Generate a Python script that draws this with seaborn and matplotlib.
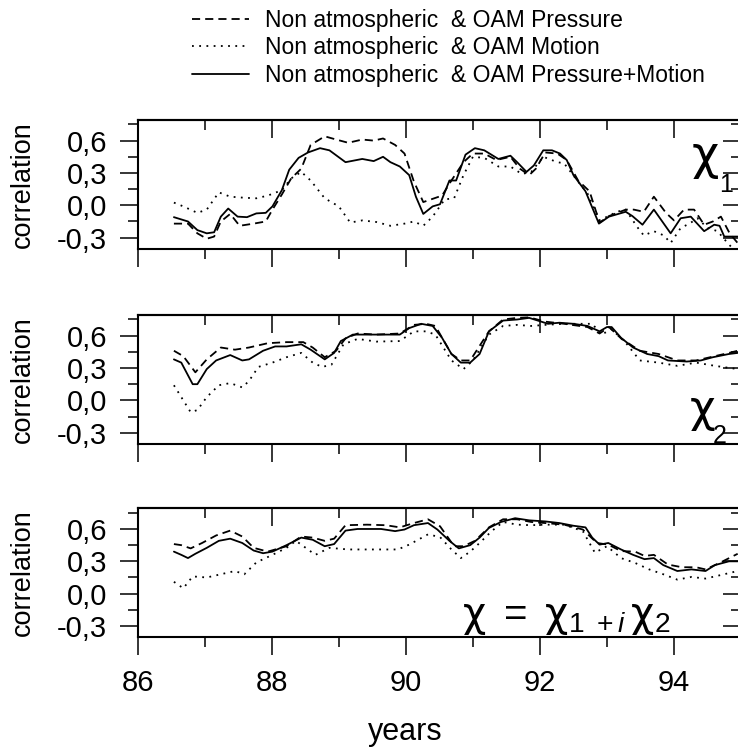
import pandas as pd
import matplotlib
matplotlib.use('Agg')
import matplotlib.pyplot as plt
import seaborn as sns
from matplotlib.lines import Line2D
from matplotlib.ticker import FixedLocator

# values (years, correlation)
chi1_press_years = [86.54, 86.75, 86.89, 87.03, 87.14, 87.24, 87.38, 87.52, 87.73, 87.91, 88.01, 88.15,
                    88.29, 88.44, 88.58, 88.79, 88.96, 89.14, 89.35, 89.52, 89.66, 89.84, 89.98, 90.12,
                    90.26, 90.40, 90.54, 90.68, 90.86, 91.00, 91.17, 91.35, 91.56, 91.70, 91.84, 91.94,
                    92.08, 92.26, 92.40, 92.57, 92.74, 92.89, 93.03, 93.28, 93.40, 93.55, 93.70, 93.88,
                    94.00, 94.15, 94.30, 94.45, 94.58, 94.70, 94.83, 94.95]
chi1_press = [-0.17, -0.17, -0.26, -0.31, -0.29, -0.15, -0.08, -0.19, -0.17, -0.15, -0.04, 0.10,
              0.25, 0.34, 0.56, 0.64, 0.61, 0.58, 0.61, 0.60, 0.62, 0.56, 0.48, 0.22,
              0.03, 0.06, 0.09, 0.23, 0.40, 0.48, 0.48, 0.42, 0.45, 0.34, 0.28, 0.34,
              0.49, 0.48, 0.42, 0.23, 0.13, -0.16, -0.10, -0.04, -0.04, -0.06, 0.08, -0.07,
              -0.14, -0.04, -0.04, -0.18, -0.15, -0.105, -0.26, -0.35]
chi1_motion_years = [86.54, 86.68, 86.89, 87.03, 87.21, 87.38, 87.59, 87.77, 87.94, 88.15, 88.29, 88.44,
                     88.58, 88.79, 89.00, 89.17, 89.35, 89.56, 89.77, 89.98, 90.12, 90.26, 90.40, 90.58,
                     90.72, 90.86, 91.00, 91.17, 91.38, 91.56, 91.73, 91.87, 92.05, 92.26, 92.36, 92.57,
                     92.71, 92.89, 93.15, 93.28, 93.45, 93.55, 93.70, 93.85, 93.95, 94.10, 94.23, 94.35,
                     94.50, 94.65, 94.80, 94.95]
chi1_motion = [0.025, -0.01, -0.07, -0.04, 0.12, 0.08, 0.07, 0.065, 0.09, 0.14, 0.25, 0.31,
               0.23, 0.065, -0.01, -0.16, -0.14, -0.155, -0.19, -0.17, -0.15, -0.19, -0.105, 0.055,
               0.065, 0.28, 0.45, 0.44, 0.36, 0.36, 0.29, 0.31, 0.45, 0.40, 0.39, 0.22,
               0.11, -0.14, -0.06, -0.04, -0.20, -0.28, -0.24, -0.28, -0.35, -0.21, -0.17, -0.12,
               -0.21, -0.24, -0.35, -0.45]
chi1_both_years = [86.54, 86.75, 86.89, 87.03, 87.14, 87.24, 87.35, 87.49, 87.63, 87.77, 87.91, 88.01,
                   88.15, 88.26, 88.40, 88.54, 88.72, 88.86, 89.10, 89.35, 89.52, 89.66, 89.77, 89.91,
                   90.05, 90.15, 90.26, 90.40, 90.51, 90.65, 90.75, 90.89, 91.03, 91.17, 91.38, 91.56,
                   91.66, 91.80, 91.91, 92.05, 92.18, 92.30, 92.40, 92.50, 92.68, 92.88, 93.03, 93.28,
                   93.38, 93.53, 93.70, 93.95, 94.10, 94.25, 94.45, 94.60, 94.68, 94.75, 94.95]
chi1_both = [-0.11, -0.15, -0.23, -0.26, -0.25, -0.105, -0.03, -0.105, -0.11, -0.075, -0.07, -0.01,
             0.14, 0.33, 0.44, 0.49, 0.53, 0.51, 0.40, 0.43, 0.41, 0.45, 0.40, 0.36,
             0.28, 0.08, -0.08, -0.01, 0.01, 0.23, 0.23, 0.47, 0.53, 0.51, 0.43, 0.46,
             0.40, 0.31, 0.37, 0.51, 0.51, 0.48, 0.42, 0.28, 0.13, -0.17, -0.105, -0.06,
             -0.10, -0.18, -0.04, -0.26, -0.12, -0.105, -0.24, -0.18, -0.19, -0.29, -0.29]

chi2_press_years = [86.54, 86.68, 86.86, 87.03, 87.24, 87.45, 87.66, 87.94, 88.22, 88.47, 88.61, 88.79,
                    88.96, 89.10, 89.28, 89.56, 89.91, 90.12, 90.30, 90.44, 90.68, 90.82, 90.96, 91.24,
                    91.45, 91.66, 91.84, 92.08, 92.36, 92.71, 92.89, 93.03, 93.21, 93.49, 93.77, 94.05,
                    94.33, 94.61, 94.82, 94.95]
chi2_press = [0.46, 0.41, 0.26, 0.38, 0.49, 0.47, 0.49, 0.53, 0.54, 0.54, 0.49, 0.40,
              0.46, 0.575, 0.62, 0.61, 0.62, 0.70, 0.71, 0.69, 0.43, 0.37, 0.37, 0.64,
              0.75, 0.765, 0.77, 0.73, 0.71, 0.68, 0.62, 0.68, 0.575, 0.46, 0.43, 0.37,
              0.37, 0.41, 0.44, 0.46]
chi2_motion_years = [86.54, 86.65, 86.79, 86.89, 87.03, 87.21, 87.38, 87.56, 87.66, 87.80, 88.01, 88.22,
                     88.44, 88.61, 88.75, 88.89, 89.07, 89.28, 89.56, 89.91, 90.12, 90.30, 90.44, 90.68,
                     90.86, 91.00, 91.24, 91.45, 91.66, 91.87, 92.08, 92.36, 92.78, 92.92, 93.07, 93.28,
                     93.49, 93.77, 94.05, 94.33, 94.61, 94.95]
chi2_motion = [0.14, 0.03, -0.11, -0.09, 0.03, 0.14, 0.16, 0.12, 0.18, 0.31, 0.35, 0.40,
               0.44, 0.35, 0.31, 0.33, 0.52, 0.57, 0.545, 0.55, 0.64, 0.64, 0.61, 0.37,
               0.29, 0.37, 0.61, 0.69, 0.70, 0.69, 0.70, 0.71, 0.71, 0.61, 0.66, 0.535,
               0.37, 0.35, 0.32, 0.35, 0.32, 0.29]
chi2_both_years = [86.54, 86.65, 86.82, 86.89, 87.03, 87.17, 87.38, 87.56, 87.66, 87.87, 88.05, 88.22,
                   88.44, 88.58, 88.79, 88.93, 89.03, 89.21, 89.42, 89.63, 89.91, 90.05, 90.23, 90.40,
                   90.54, 90.68, 90.82, 90.96, 91.10, 91.24, 91.45, 91.66, 91.84, 92.02, 92.12, 92.29,
                   92.50, 92.71, 92.89, 93.00, 93.07, 93.21, 93.39, 93.60, 93.77, 93.91, 94.19, 94.40,
                   94.58, 94.82, 94.95]
chi2_both = [0.38, 0.35, 0.15, 0.15, 0.29, 0.37, 0.42, 0.37, 0.38, 0.46, 0.50, 0.50,
             0.52, 0.47, 0.38, 0.44, 0.55, 0.61, 0.61, 0.61, 0.61, 0.67, 0.71, 0.69,
             0.58, 0.43, 0.35, 0.35, 0.43, 0.64, 0.74, 0.75, 0.765, 0.73, 0.71, 0.72,
             0.71, 0.69, 0.64, 0.68, 0.68, 0.58, 0.49, 0.43, 0.41, 0.37, 0.36, 0.37,
             0.40, 0.43, 0.44]

chi_press_years = [86.54, 86.65, 86.79, 86.96, 87.17, 87.38, 87.56, 87.73, 87.94, 88.22, 88.44, 88.61,
                   88.79, 88.93, 89.10, 89.42, 89.70, 89.91, 90.12, 90.33, 90.51, 90.72, 90.86, 91.03,
                   91.24, 91.45, 91.66, 91.87, 92.08, 92.36, 92.64, 92.85, 93.02, 93.21, 93.42, 93.56,
                   93.70, 93.91, 94.12, 94.33, 94.47, 94.68, 94.95]
chi_press = [0.46, 0.45, 0.42, 0.47, 0.54, 0.585, 0.53, 0.425, 0.39, 0.44, 0.53, 0.52,
             0.49, 0.51, 0.635, 0.64, 0.635, 0.615, 0.655, 0.69, 0.625, 0.44, 0.44, 0.49,
             0.615, 0.69, 0.69, 0.665, 0.655, 0.64, 0.595, 0.47, 0.455, 0.395, 0.39, 0.35,
             0.36, 0.27, 0.245, 0.245, 0.225, 0.285, 0.37]
chi_motion_years = [86.54, 86.68, 86.82, 87.03, 87.24, 87.45, 87.59, 87.77, 88.01, 88.22, 88.36, 88.54,
                    88.65, 88.86, 89.14, 89.56, 89.88, 90.05, 90.33, 90.51, 90.68, 90.82, 90.96, 91.10,
                    91.28, 91.45, 91.66, 91.87, 92.08, 92.36, 92.64, 92.82, 93.00, 93.21, 93.42, 93.63,
                    93.84, 94.05, 94.26, 94.47, 94.68, 94.95]
chi_motion = [0.11, 0.05, 0.16, 0.15, 0.18, 0.21, 0.18, 0.29, 0.36, 0.425, 0.49, 0.41,
              0.36, 0.425, 0.41, 0.41, 0.41, 0.455, 0.55, 0.525, 0.41, 0.33, 0.39, 0.47,
              0.58, 0.665, 0.64, 0.635, 0.64, 0.64, 0.58, 0.38, 0.44, 0.33, 0.285, 0.225,
              0.18, 0.13, 0.155, 0.14, 0.17, 0.21]
chi_both_years = [86.54, 86.65, 86.75, 86.86, 87.03, 87.21, 87.38, 87.56, 87.73, 87.87, 88.01, 88.22,
                  88.44, 88.61, 88.79, 88.93, 89.10, 89.28, 89.63, 89.84, 89.98, 90.12, 90.33, 90.47,
                  90.65, 90.79, 90.96, 91.10, 91.24, 91.42, 91.63, 91.84, 92.08, 92.29, 92.50, 92.68,
                  92.78, 92.89, 93.02, 93.21, 93.39, 93.56, 93.70, 93.84, 94.05, 94.26, 94.47, 94.61,
                  94.82, 94.95]
chi_both = [0.39, 0.36, 0.33, 0.37, 0.425, 0.49, 0.51, 0.47, 0.40, 0.375, 0.39, 0.45,
            0.52, 0.50, 0.44, 0.46, 0.585, 0.60, 0.60, 0.58, 0.595, 0.635, 0.655, 0.595,
            0.49, 0.42, 0.45, 0.52, 0.61, 0.665, 0.70, 0.68, 0.67, 0.655, 0.63, 0.615,
            0.52, 0.455, 0.47, 0.41, 0.36, 0.32, 0.33, 0.265, 0.21, 0.225, 0.21, 0.265,
            0.30, 0.30]

series_labels = ['Non atmospheric  & OAM Pressure',
                 'Non atmospheric  & OAM Motion',
                 'Non atmospheric  & OAM Pressure+Motion']
year_ticks = [86, 88, 90, 92, 94]
year_labels = ['86', '88', '90', '92', '94']
corr_ticks = [-0.3, 0.0, 0.3, 0.6]
corr_labels = ['-0,3', '0,0', '0,3', '0,6']

panels = {
    'chi1': [(chi1_press_years, chi1_press), (chi1_motion_years, chi1_motion), (chi1_both_years, chi1_both)],
    'chi2': [(chi2_press_years, chi2_press), (chi2_motion_years, chi2_motion), (chi2_both_years, chi2_both)],
    'chi': [(chi_press_years, chi_press), (chi_motion_years, chi_motion), (chi_both_years, chi_both)],
}
rows = []
for pname, series in panels.items():
    for label, (yrs, vals) in zip(series_labels, series):
        for yr, v in zip(yrs, vals):
            rows.append({'panel': pname, 'series': label, 'year': yr, 'corr': v})
df = pd.DataFrame(rows)

sns.set_style('ticks')
plt.rcParams['font.family'] = ['Liberation Sans', 'DejaVu Sans']
for key in ['text.color', 'axes.labelcolor', 'xtick.color', 'ytick.color', 'axes.edgecolor']:
    plt.rcParams[key] = 'black'
plt.rcParams['mathtext.fontset'] = 'custom'
plt.rcParams['mathtext.rm'] = 'Liberation Sans'
plt.rcParams['mathtext.it'] = 'Liberation Sans:italic'
plt.rcParams['mathtext.sf'] = 'DejaVu Sans'
plt.rcParams['mathtext.default'] = 'regular'

dash_map = {series_labels[0]: (4.5, 2.8), series_labels[1]: (1.0, 3.0), series_labels[2]: ''}
lw = 1.3

fig = plt.figure(figsize=(7.38, 7.49), dpi=100)
left, width, height = 0.1866, 0.8175, 0.172
bottoms = [0.6676, 0.4072, 0.1491]

axes = []
for i, (pname, bottom) in enumerate(zip(['chi1', 'chi2', 'chi'], bottoms)):
    ax = fig.add_axes([left, bottom, width, height])
    sns.lineplot(data=df[df['panel'] == pname], x='year', y='corr', style='series',
                 style_order=series_labels, dashes=dash_map, color='black', linewidth=lw,
                 estimator=None, sort=False, legend=False, ax=ax)
    ax.set_xlim(86, 95)
    ax.set_ylim(-0.405, 0.79)
    ax.set_xticks(year_ticks)
    ax.xaxis.set_minor_locator(FixedLocator([87, 89, 91, 93, 95]))
    ax.set_yticks(corr_ticks)
    ax.set_yticklabels(corr_labels)
    ax.yaxis.set_minor_locator(FixedLocator([-0.15, 0.15, 0.45, 0.75]))
    if i == 2:
        ax.set_xticklabels(year_labels)
        ax.set_xlabel('years', fontsize=22)
        ax.xaxis.set_label_coords(0.443, -0.62)
    else:
        ax.set_xticklabels([])
        ax.set_xlabel('')
    ax.set_ylabel('correlation', fontsize=19.5)
    ax.yaxis.set_label_coords(-0.168, 0.5)
    ax.tick_params(which='major', direction='out', length=13, width=1.1, labelsize=21, pad=9)
    ax.tick_params(which='minor', direction='out', length=7, width=1.1)
    ax.tick_params(axis='x', which='major', pad=10)
    for sp in ax.spines.values():
        sp.set_linewidth(1.5)
    # inward ticks on top and right side
    top = ax.secondary_xaxis('top')
    top.set_xticks(year_ticks)
    top.xaxis.set_minor_locator(FixedLocator([87, 89, 91, 93, 95]))
    top.tick_params(which='major', direction='in', length=13, width=1.1, labeltop=False)
    top.tick_params(which='minor', direction='in', length=7, width=1.1)
    top.spines['top'].set_linewidth(1.5)
    right = ax.secondary_yaxis('right')
    right.set_yticks(corr_ticks)
    right.yaxis.set_minor_locator(FixedLocator([-0.15, 0.15, 0.45, 0.75]))
    right.tick_params(which='major', direction='in', length=13, width=1.1, labelright=False)
    right.tick_params(which='minor', direction='in', length=7, width=1.1)
    axes.append(ax)

ax1, ax2, ax3 = axes
chi_font = ['DejaVu Sans']
ax1.text(0.940, 0.62, 'χ', transform=ax1.transAxes, fontsize=34, family=chi_font,
         ha='center', va='baseline')
ax1.text(0.975, 0.44, '1', transform=ax1.transAxes, fontsize=18, ha='center', va='baseline')
ax2.text(0.937, 0.17, 'χ', transform=ax2.transAxes, fontsize=32, family=chi_font,
         ha='center', va='baseline')
ax2.text(0.965, 0.01, '2', transform=ax2.transAxes, fontsize=18, ha='center', va='baseline')
ax3.text(0.537, 0.09, r'$\mathsf{\chi}\ =\ \mathsf{\chi}_{1\ +\mathit{i}}\,\mathsf{\chi}_{2}$',
         transform=ax3.transAxes, fontsize=29, ha='left', va='baseline')

handles = [Line2D([], [], color='black', lw=lw, dashes=dash_map[series_labels[0]]),
           Line2D([], [], color='black', lw=lw, dashes=(1.0, 3.0)),
           Line2D([], [], color='black', lw=lw)]
fig.legend(handles, series_labels, loc='upper left', bbox_to_anchor=(0.238, 1.01),
           frameon=False, fontsize=16.5, handlelength=2.5, handletextpad=0.7, labelspacing=0.2,
           borderpad=0.2)

fig.savefig('out.png', dpi=100)
